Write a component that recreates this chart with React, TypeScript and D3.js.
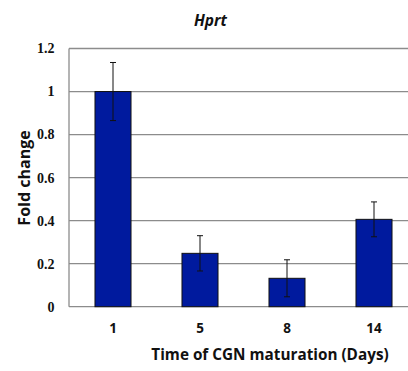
import React from "react";
import * as d3 from "d3";

const days = ["1", "5", "8", "14"];
const foldChange = [1.0, 0.248, 0.132, 0.406];
const errors = [0.135, 0.082, 0.086, 0.081];
const yTicks = [0, 0.2, 0.4, 0.6, 0.8, 1, 1.2];

const W = 408;
const H = 371;

export default function App() {
  const x = d3
    .scaleBand<string>()
    .domain(days)
    .range([69.5, 417.5])
    .paddingInner(0.586)
    .paddingOuter(0.293);
  const y = d3.scaleLinear().domain([0, 1.2]).range([306.7, 48.5]);
  const fmt = (v: number) => (v === 0 || v === 1 ? String(v) : v.toFixed(1));
  const capHalf = 3;

  return (
    <svg
      width={W}
      height={H}
      style={{ position: "absolute", left: 0, top: 0, background: "#fff" }}
    >
      {/* horizontal gridlines */}
      {yTicks.map((t) => (
        <line
          key={"g" + t}
          x1={69}
          x2={W}
          y1={y(t)}
          y2={y(t)}
          stroke="#8c8c8c"
          strokeWidth={1.3}
        />
      ))}
      {/* left axis */}
      <line x1={69} x2={69} y1={y(1.2)} y2={y(0)} stroke="#8c8c8c" strokeWidth={1.3} />

      {/* y tick labels */}
      {yTicks.map((t) => (
        <text
          key={"t" + t}
          x={54.5}
          y={y(t)}
          dy="0.35em"
          textAnchor="end"
          fontFamily="'Liberation Serif', 'Times New Roman', serif"
          fontWeight="bold"
          fontSize={14}
          fill="#111"
        >
          {fmt(t)}
        </text>
      ))}

      {/* bars */}
      {days.map((d, i) => (
        <rect
          key={"b" + d}
          x={x(d)}
          y={y(foldChange[i])}
          width={x.bandwidth()}
          height={y(0) - y(foldChange[i])}
          fill="#001a9e"
          stroke="#111"
          strokeWidth={1}
        />
      ))}

      {/* error bars */}
      {days.map((d, i) => {
        const cx = (x(d) as number) + x.bandwidth() / 2;
        const top = y(foldChange[i] + errors[i]);
        const bot = y(foldChange[i] - errors[i]);
        return (
          <g key={"e" + d} stroke="#111" strokeWidth={1}>
            <line x1={cx} x2={cx} y1={top} y2={bot} />
            <line x1={cx - capHalf} x2={cx + capHalf} y1={top} y2={top} />
            <line x1={cx - capHalf} x2={cx + capHalf} y1={bot} y2={bot} />
          </g>
        );
      })}

      {/* x tick labels */}
      {days.map((d) => (
        <text
          key={"x" + d}
          x={(x(d) as number) + x.bandwidth() / 2}
          y={333}
          textAnchor="middle"
          fontFamily="'Open Sans', sans-serif"
          fontWeight="bold"
          fontSize={13.5}
          fill="#111"
        >
          {d}
        </text>
      ))}

      {/* title */}
      <text
        x={210.5}
        y={25.5}
        textAnchor="middle"
        fontFamily="'Open Sans', sans-serif"
        fontWeight="bold"
        fontStyle="italic"
        fontSize={15.5}
        fill="#111"
      >
        Hprt
      </text>

      {/* axis titles */}
      <text
        x={270}
        y={360}
        textAnchor="middle"
        fontFamily="'Open Sans', sans-serif"
        fontWeight="bold"
        fontSize={15.3}
        fill="#111"
      >
        Time of CGN maturation (Days)
      </text>
      <text
        transform="translate(29.5,178) rotate(-90)"
        textAnchor="middle"
        fontFamily="'Open Sans', sans-serif"
        fontWeight="bold"
        fontSize={16}
        fill="#111"
      >
        Fold change
      </text>
    </svg>
  );
}
